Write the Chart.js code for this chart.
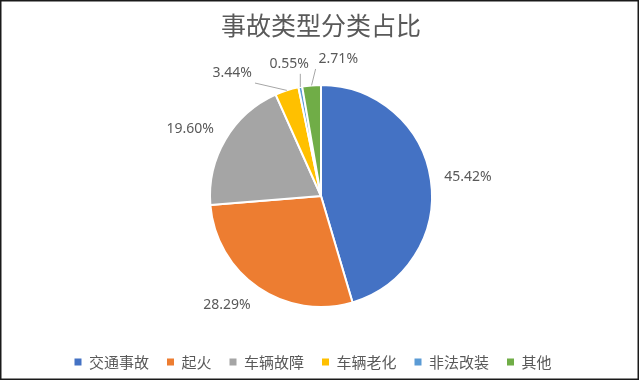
<!DOCTYPE html>
<html>
<head>
<meta charset="utf-8">
<script src="https://cdn.jsdelivr.net/npm/chart.js@4/dist/chart.umd.min.js"></script>
<style>
  html, body { margin: 0; padding: 0; background: #fff; }
  #wrap { width: 640px; height: 381px; position: relative; }
  canvas { display: block; }
</style>
</head>
<body>
<div id="wrap"><canvas id="c" width="640" height="381"></canvas></div>
<script>
// ---- data ----
const chartTitle = '事故类型分类占比';
const categories = ['交通事故', '起火', '车辆故障', '车辆老化', '非法改装', '其他'];
const shares = [45.42, 28.29, 19.60, 3.44, 0.55, 2.71];

// ---- styles ----
const sliceColors = ['#4472C4', '#ED7D31', '#A5A5A5', '#FFC000', '#5B9BD5', '#70AD47'];
const textColor = '#595959';
const labelFont = '14px "Noto Sans", "Noto Sans CJK SC", sans-serif';
// per-label nudges (px) for the crowded small slices, and whether a leader line is drawn
const labelNudge = [[0, 0], [0, 0], [0, 0], [-30.7, 3.1], [11, -2], [47.6, -5]];
const labelLeader = [false, false, false, true, true, true];
const legendShift = -8;

const pieLabels = {
  id: 'pieLabels',
  afterLayout(chart) {
    if (chart.legend) {
      chart.legend.left += legendShift;
      chart.legend.right += legendShift;
    }
  },
  afterDatasetsDraw(chart) {
    const ctx = chart.ctx;
    const meta = chart.getDatasetMeta(0);
    const gap = 13.5, h = 14;
    ctx.save();
    ctx.font = labelFont;
    ctx.textBaseline = 'middle';
    meta.data.forEach((arc, i) => {
      const p = arc.getProps(['x', 'y', 'startAngle', 'endAngle', 'outerRadius'], true);
      const mid = (p.startAngle + p.endAngle) / 2;
      const c = Math.cos(mid), s = Math.sin(mid);
      const R = p.outerRadius;
      let ax = p.x + (R + gap) * c;
      let ay = p.y + (R + gap) * s + s * 8;
      const alignLeft = c >= 0;
      ax += labelNudge[i][0];
      ay += labelNudge[i][1];
      const txt = shares[i].toFixed(2) + '%';
      const w = ctx.measureText(txt).width;
      const left = alignLeft ? ax : ax - w;
      if (labelLeader[i]) {
        const ex = p.x + R * c, ey = p.y + R * s;
        const bx0 = left - 3, bx1 = left + w + 3, by0 = ay - h / 2 - 3, by1 = ay + h / 2 + 3;
        const lx = Math.min(Math.max(ex, bx0), bx1);
        const ly = Math.min(Math.max(ey, by0), by1);
        ctx.strokeStyle = '#A6A6A6';
        ctx.lineWidth = 1;
        ctx.beginPath();
        ctx.moveTo(ex, ey);
        ctx.lineTo(lx, ly);
        ctx.stroke();
      }
      ctx.fillStyle = textColor;
      ctx.textAlign = 'left';
      ctx.fillText(txt, left, ay);
    });
    ctx.restore();
  },
  afterDraw(chart) {
    const ctx = chart.ctx;
    ctx.save();
    ctx.strokeStyle = '#1a1a1a';
    ctx.lineWidth = 1.5;
    ctx.strokeRect(0.75, 0.75, 637.5, 378.5);
    ctx.restore();
  }
};

new Chart(document.getElementById('c'), {
  type: 'pie',
  data: {
    labels: categories,
    datasets: [{
      data: shares,
      backgroundColor: sliceColors,
      borderColor: '#FFFFFF',
      borderWidth: 2,
      radius: 111
    }]
  },
  options: {
    responsive: false,
    animation: false,
    devicePixelRatio: 1,
    layout: { padding: { left: 2, right: 0, top: 0, bottom: 1.5 } },
    plugins: {
      tooltip: { enabled: false },
      title: {
        display: true,
        text: chartTitle,
        color: textColor,
        font: { family: '"Noto Sans CJK SC", sans-serif', size: 25, weight: 'normal', lineHeight: 1.2 },
        padding: { top: 10, bottom: 15.5 }
      },
      legend: {
        position: 'bottom',
        labels: {
          boxWidth: 7,
          boxHeight: 7,
          padding: 18,
          color: textColor,
          font: { family: '"Noto Sans CJK SC", sans-serif', size: 15 },
          generateLabels(chart) {
            const items = Chart.overrides.pie.plugins.legend.labels.generateLabels(chart);
            items.forEach(it => { it.lineWidth = 0; it.strokeStyle = it.fillStyle; });
            return items;
          }
        }
      }
    }
  },
  plugins: [pieLabels]
});
</script>
</body>
</html>
